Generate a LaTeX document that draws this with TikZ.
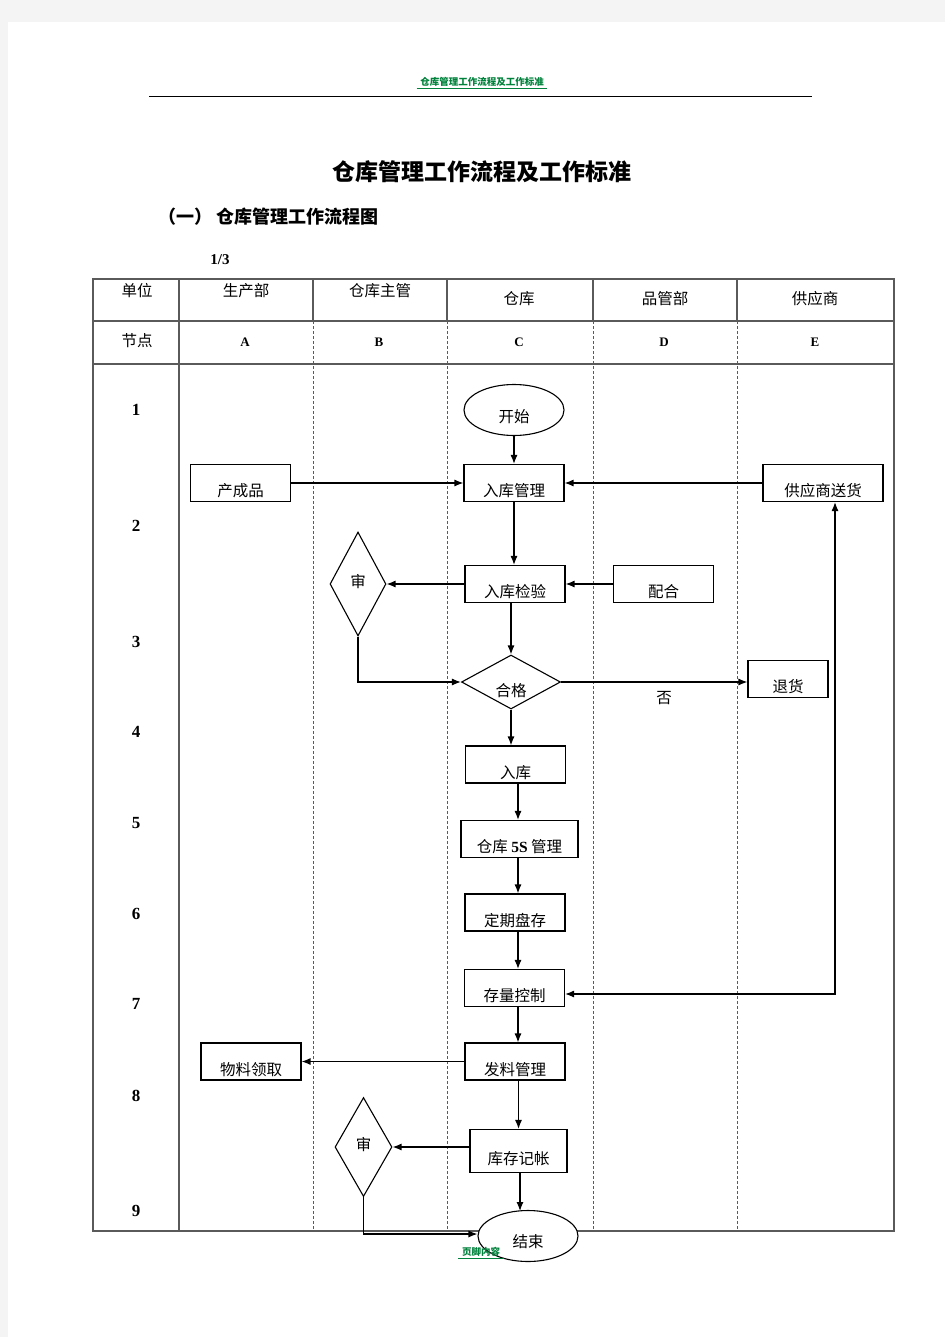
\documentclass[tikz,border=0pt]{standalone}
\usepackage{fontspec}
\setmainfont{Liberation Serif}
\newfontfamily\cjk{Noto Sans CJK SC}
\usetikzlibrary{shapes.geometric, arrows.meta}
\definecolor{hdgreen}{RGB}{0,130,60}
\definecolor{pagegray}{RGB}{244,244,244}
\definecolor{rulegray}{RGB}{90,90,90}

\begin{document}
\begin{tikzpicture}[x=1pt, y=-1pt,
    box/.style={draw, line width=1.1pt, minimum width=100pt, minimum height=37pt,
        inner xsep=2pt, inner ysep=1pt, text height=31pt, text depth=4pt,
        font=\cjk\fontsize{15.5}{16}\selectfont},
    judge/.style={draw, diamond, line width=1.1pt, inner sep=0pt,
        minimum width=56pt, minimum height=104pt, font=\cjk\fontsize{15.5}{16}\selectfont},
    term/.style={draw, ellipse, line width=1.1pt, fill=white, inner sep=0pt,
        minimum width=100pt, minimum height=51pt, font=\cjk\fontsize{15.5}{16}\selectfont},
    hd/.style={font=\cjk\fontsize{15.5}{16}\selectfont},
    node/.style={font=\bfseries\fontsize{13}{13}\selectfont},
    num/.style={font=\bfseries\fontsize{17}{17}\selectfont},
    tbl/.style={draw=rulegray, line width=1.1pt},
    lane/.style={draw=rulegray, line width=0.7pt, dash pattern=on 3pt off 2pt},
    flow/.style={-{Latex[length=9pt, width=7pt]}, line width=1.2pt}]

    % Page
    \fill[pagegray] (0,0) rectangle (945,1337);
    \fill[white] (8,22) rectangle (945,1337);
    \useasboundingbox (0,0) rectangle (945,1337);

    % Page header
    \node[hdgreen, font=\cjk\bfseries\fontsize{9.5}{10}\selectfont] (hdtxt) at (482,82) {仓库管理工作流程及工作标准};
    \draw[hdgreen, line width=0.8pt] ([yshift=2pt]hdtxt.south west) -- ([yshift=2pt]hdtxt.south east);
    \draw[line width=1pt] (149,97) -- (812,97);

    % Titles
    \node[font=\cjk\bfseries\fontsize{23}{23}\selectfont] (title) at (482,172) {仓库管理工作流程及工作标准};
    \node[anchor=west, font=\cjk\bfseries\fontsize{18}{18}\selectfont] (sub) at (155,217) {（一） 仓库管理工作流程图};
    \node[font=\bfseries\fontsize{15}{15}\selectfont] (page) at (220,260) {1/3};

    % Table frame
    \draw[tbl] (93,279) rectangle (894,1231);
    \draw[tbl] (93,321) -- (894,321);
    \draw[tbl] (93,364) -- (894,364);
    \draw[tbl] (179,279) -- (179,1231);
    \foreach \x in {313,447,593,737} {
        \draw[tbl] (\x,279) -- (\x,321);
        \draw[lane] (\x,321) -- (\x,1231);
    }

    % Table heads
    \node[hd] (unit) at (137,291) {单位};
    \node[hd] (prod) at (246,291) {生产部};
    \node[hd] (chief) at (380,291) {仓库主管};
    \node[hd] (store) at (519,299) {仓库};
    \node[hd] (qc) at (665,299) {品管部};
    \node[hd] (supp) at (815,299) {供应商};
    \node[hd] (point) at (137,341) {节点};
    \node[node] (colA) at (245,342) {A};
    \node[node] (colB) at (379,342) {B};
    \node[node] (colC) at (519,342) {C};
    \node[node] (colD) at (664,342) {D};
    \node[node] (colE) at (815,342) {E};

    % Step numbers
    \foreach \n/\y in {1/410,2/526,3/642,4/732,5/823,6/914,7/1004,8/1096,9/1211}
        \node[num] (row\n) at (136,\y) {\n};

    % Flow nodes
    \node[term] (start) at (514,410) {\raisebox{-12pt}[0pt][0pt]{开始}};
    \node[box] (rkgl) at (514,483) {入库管理};
    \node[box] (ccp) at (240.5,483) {产成品};
    \node[box, minimum width=120pt] (gysh) at (823,483) {供应商送货};
    \node[judge] (shen1) at (358,584) {\raisebox{-3pt}[0pt][0pt]{审}};
    \node[box] (rkjy) at (515,584) {入库检验};
    \node[box] (peihe) at (663.5,584) {配合};
    \node[judge, minimum width=99pt, minimum height=54pt] (hege) at (511,682) {\raisebox{-14pt}[0pt][0pt]{合格}};
    \node[font=\cjk\fontsize{15.5}{16}\selectfont] (fou) at (664,698) {否};
    \node[box, minimum width=80pt] (tuihuo) at (788,679) {退货\hspace{18pt}};
    \node[box] (ruku) at (515.5,764.5) {入库};
    \node[box, minimum width=117pt] (ws) at (519.5,839) {仓库 {\rmfamily\bfseries 5S} 管理};
    \node[box] (dqpc) at (515,912.5) {定期盘存};
    \node[box] (clkz) at (514.5,988) {存量控制};
    \node[box] (flgl) at (515,1061.5) {发料管理};
    \node[box] (wlln) at (251,1061.5) {物料领取};
    \node[judge, minimum width=57pt, minimum height=99pt] (shen2) at (363.5,1147) {\raisebox{-3pt}[0pt][0pt]{审}};
    \node[box, minimum width=97pt, minimum height=43pt] (kcjz) at (518.5,1151) {库存记帐};
    \node[term] (jieshu) at (528,1236) {\raisebox{-11pt}[0pt][0pt]{结束}};
    \coordinate (axis) at (518,0);

    % Connectors
    \draw[flow] (start) -- (rkgl);
    \draw[flow] (ccp) -- (rkgl);
    \draw[flow] (gysh) -- (rkgl);
    \draw[flow] (rkgl.south -| start) -- (rkjy.north -| start);
    \draw[flow] (rkjy) -- (shen1);
    \draw[flow] (peihe) -- (rkjy);
    \draw[flow] (rkjy.south -| hege) -- (hege.north);
    \draw[flow] (shen1.south) |- (hege.west);
    \draw[flow] (hege.east) -- (hege -| tuihuo.west);
    \draw[flow] (hege.south) -- (hege.south |- ruku.north);
    \draw[flow] (ruku.south -| axis) -- (ws.north -| axis);
    \draw[flow] (ws.south -| axis) -- (dqpc.north -| axis);
    \draw[flow] (dqpc.south -| axis) -- (clkz.north -| axis);
    \draw[{Latex[length=9pt, width=7pt]}-{Latex[length=9pt, width=7pt]}, line width=1.2pt]
        ([yshift=-6pt]clkz.east) -| ([xshift=12pt]gysh.south);
    \draw[flow] (clkz.south -| axis) -- (flgl.north -| axis);
    \draw[flow] (flgl) -- (wlln);
    \draw[flow] (flgl.south -| kcjz) -- (kcjz.north);
    \draw[flow] (kcjz.west |- shen2) -- (shen2.east);
    \draw[flow] (kcjz.south -| 520,0) -- (520,1211);
    \draw[flow] (shen2.south) |- ([yshift=2pt]jieshu.west);

    % Page footer
    \node[hdgreen, font=\cjk\bfseries\fontsize{9.5}{10}\selectfont] (ftxt) at (481,1252) {页脚内容};
    \draw[hdgreen, line width=0.8pt] ([yshift=2pt]ftxt.south west) -- ([yshift=2pt]ftxt.south east);
\end{tikzpicture}
\end{document}
